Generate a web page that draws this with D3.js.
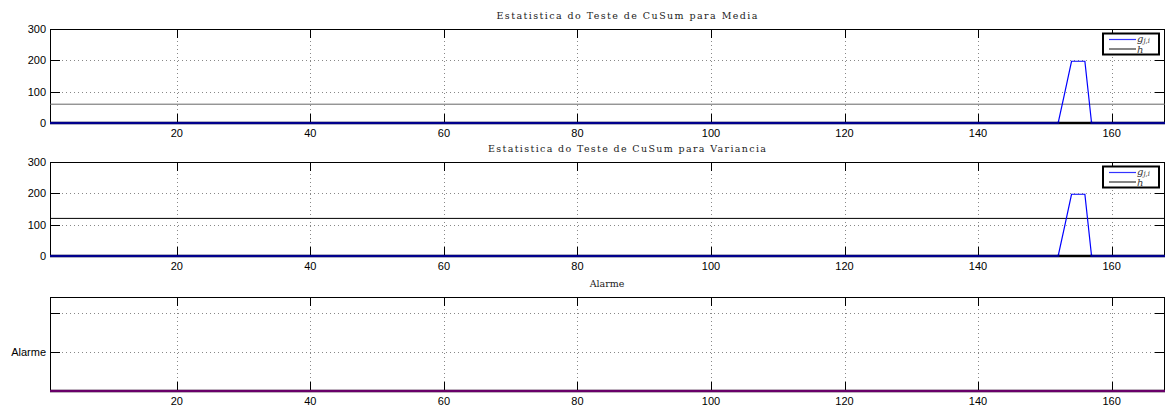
<!DOCTYPE html>
<html>
<head>
<meta charset="utf-8">
<script src="https://cdn.jsdelivr.net/npm/d3@7"></script>
<style>
  body { margin: 0; background: #fff; }
  svg { display: block; }
</style>
</head>
<body>
<div id="chart"></div>
<script>
// values
const xTicks = [20, 40, 60, 80, 100, 120, 140, 160];
const xDomain = [1, 168];

const mediaX = [1, 152, 153, 154, 155, 156, 157, 168];
const mediaG = [0, 0, 98, 197, 197, 197, 0, 0];
const mediaH = 60;

const varX = [1, 152, 153, 154, 155, 156, 157, 168];
const varG = [0, 0, 98, 197, 197, 197, 0, 0];
const varH = 120;

const alarmX = [1, 168];
const alarmY = [0, 0];

const cusumTicks = [0, 100, 200, 300];
const alarmTicks = [1, 2];
const alarmTickLabels = ["Alarme", ""];

const width = 1166, height = 410;
const left = 50, right = 1165;

const svg = d3.select("#chart").append("svg")
  .attr("width", width).attr("height", height);

const x = d3.scaleLinear().domain(xDomain).range([left, right]);

function panel(cfg, idx) {
  const y = d3.scaleLinear().domain(cfg.yDomain).range([cfg.bottom, cfg.top]);
  const g = svg.append("g");

  // title
  const title = g.append("text")
    .attr("x", cfg.titleX).attr("y", cfg.top - 10)
    .attr("text-anchor", "middle")
    .attr("font-family", "DejaVu Serif")
    .attr("font-size", "9.5px")
    .attr("fill", "#222")
    .text(cfg.title);
  if (cfg.titleLen) title.attr("textLength", cfg.titleLen).attr("lengthAdjust", "spacing");

  // dotted grid
  const grid = g.append("g").attr("stroke", "#888").attr("stroke-width", 1)
    .attr("stroke-dasharray", "1,3");
  grid.selectAll(".gx").data(xTicks).join("line")
    .attr("x1", d => Math.round(x(d)) + 0.5).attr("x2", d => Math.round(x(d)) + 0.5)
    .attr("y1", cfg.top).attr("y2", cfg.bottom);
  grid.selectAll(".gy").data(cfg.yTicks.filter(d => y(d) > cfg.top + 1 && y(d) < cfg.bottom - 1)).join("line")
    .attr("x1", left).attr("x2", right)
    .attr("y1", d => Math.round(y(d)) + 0.5).attr("y2", d => Math.round(y(d)) + 0.5);

  // tick marks, inside, on all four sides
  const ticks = g.append("g").attr("stroke", "#000").attr("stroke-width", 1);
  xTicks.forEach(t => {
    const px = Math.round(x(t)) + 0.5;
    ticks.append("line").attr("x1", px).attr("x2", px).attr("y1", cfg.top).attr("y2", cfg.top + 9);
    ticks.append("line").attr("x1", px).attr("x2", px).attr("y1", cfg.bottom).attr("y2", cfg.bottom - 9);
  });
  cfg.yTicks.forEach(t => {
    const py = Math.round(y(t)) + 0.5;
    ticks.append("line").attr("x1", left).attr("x2", left + 10).attr("y1", py).attr("y2", py);
    ticks.append("line").attr("x1", right).attr("x2", right - 10).attr("y1", py).attr("y2", py);
  });

  // tick labels
  g.append("g").selectAll("text").data(xTicks).join("text")
    .attr("x", d => x(d)).attr("y", cfg.bottom + 14)
    .attr("text-anchor", "middle")
    .attr("font-family", "Liberation Sans, Helvetica, Arial")
    .attr("font-size", "11px").attr("fill", "#000")
    .text(d => d);
  g.append("g").selectAll("text").data(cfg.yTicks).join("text")
    .attr("x", left - 4).attr("y", d => y(d)).attr("dy", "0.35em")
    .attr("text-anchor", "end")
    .attr("font-family", "Liberation Sans, Helvetica, Arial")
    .attr("font-size", "11px").attr("fill", "#000")
    .text((d, i) => cfg.yLabels ? cfg.yLabels[i] : d);

  // frame
  g.append("rect")
    .attr("x", left + 0.5).attr("y", cfg.top + 0.5)
    .attr("width", right - left - 1).attr("height", cfg.bottom - cfg.top)
    .attr("fill", "none").attr("stroke", "#000").attr("stroke-width", 1);

  const line = d3.line().x(d => x(d[0])).y(d => y(d[1]));
  const pts = d3.zip(cfg.sx, cfg.sy);

  if (cfg.h !== undefined) {
    g.append("line").attr("x1", left).attr("x2", right)
      .attr("y1", y(cfg.h)).attr("y2", y(cfg.h))
      .attr("stroke", cfg.hColor).attr("stroke-width", 1);
  }

  g.append("path").datum(pts)
    .attr("d", line)
    .attr("fill", "none")
    .attr("stroke", cfg.color)
    .attr("stroke-width", 1.2);

  // the axis line, then the part of the series that lies on it shows through darker
  g.append("line").attr("x1", left).attr("x2", right)
    .attr("y1", cfg.bottom).attr("y2", cfg.bottom)
    .attr("stroke", "#000").attr("stroke-width", 2.4);
  const clipId = "base" + idx;
  svg.append("clipPath").attr("id", clipId).append("rect")
    .attr("x", left).attr("y", cfg.bottom - 1.5).attr("width", right - left).attr("height", 3);
  g.append("path").datum(pts)
    .attr("d", line)
    .attr("fill", "none")
    .attr("stroke", cfg.color)
    .attr("stroke-opacity", 0.55)
    .attr("stroke-width", 2.4)
    .attr("clip-path", `url(#${clipId})`);

  if (cfg.legend) {
    const lx = right - 62, ly = cfg.top + 4.5;
    const lg = g.append("g");
    lg.append("rect").attr("x", lx).attr("y", ly).attr("width", 56).attr("height", 21)
      .attr("fill", "#fff").attr("stroke", "#000").attr("stroke-width", 2);
    lg.append("line").attr("x1", lx + 6).attr("x2", lx + 33).attr("y1", ly + 6).attr("y2", ly + 6)
      .attr("stroke", "#33f").attr("stroke-width", 1.2);
    lg.append("line").attr("x1", lx + 6).attr("x2", lx + 33).attr("y1", ly + 15.5).attr("y2", ly + 15.5)
      .attr("stroke", "#333").attr("stroke-width", 1.2);
    const t1 = lg.append("text").attr("x", lx + 34).attr("y", ly + 8)
      .attr("font-family", "DejaVu Serif").attr("font-style", "italic")
      .attr("font-size", "10px").attr("fill", "#333");
    t1.append("tspan").text("g");
    t1.append("tspan").attr("font-size", "7px").attr("dy", 1.5).text("j,i");
    lg.append("text").attr("x", lx + 34).attr("y", ly + 19)
      .attr("font-family", "DejaVu Serif").attr("font-style", "italic")
      .attr("font-size", "10px").attr("fill", "#333").text("h");
  }
}

panel({
  top: 29, bottom: 123, yDomain: [0, 300], yTicks: cusumTicks,
  title: "Estatistica do Teste de CuSum para Media", titleX: 627, titleLen: 261,
  sx: mediaX, sy: mediaG, h: mediaH, hColor: "#666", color: "#0000ff", legend: true
}, 0);
panel({
  top: 162, bottom: 256, yDomain: [0, 300], yTicks: cusumTicks,
  title: "Estatistica do Teste de CuSum para Variancia", titleX: 627, titleLen: 278,
  sx: varX, sy: varG, h: varH, hColor: "#000", color: "#0000ff", legend: true
}, 1);
panel({
  top: 297, bottom: 391, yDomain: [0, 2.4], yTicks: alarmTicks, yLabels: alarmTickLabels,
  title: "Alarme", titleX: 607,
  sx: alarmX, sy: alarmY, color: "#c000c0", legend: false
}, 2);
</script>
</body>
</html>
